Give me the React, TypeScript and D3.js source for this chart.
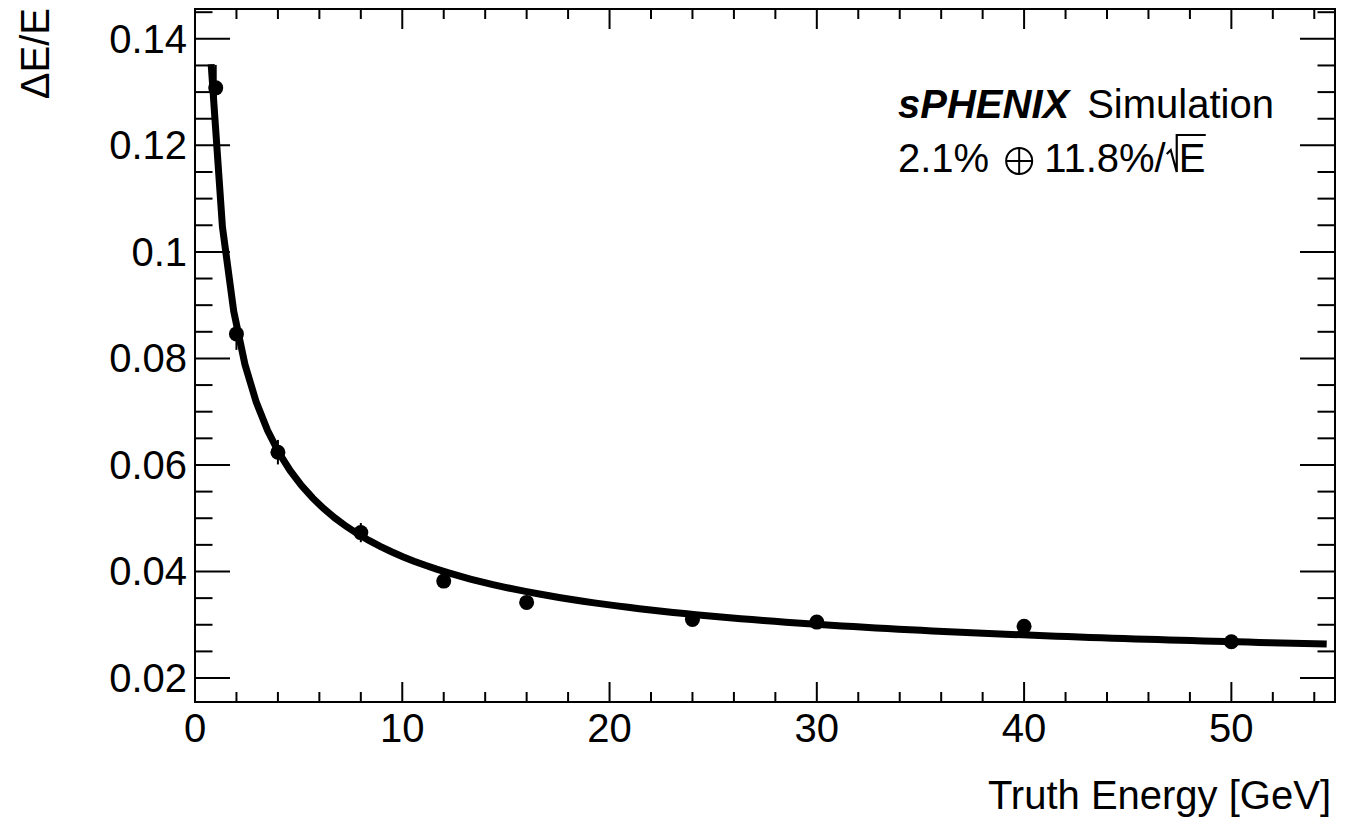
import React, { useEffect, useRef } from "react";
import * as d3 from "d3";

// Energy resolution points (truth energy in GeV, relative resolution, stat. error)
const energies = [1, 2, 4, 8, 12, 16, 24, 30, 40, 50];
const resolution = [0.1308, 0.0846, 0.0624, 0.0473, 0.0382, 0.0342, 0.031, 0.0305, 0.0297, 0.0268];
const resolutionErr = [0.0043, 0.003, 0.0023, 0.0018, 0.001, 0.0009, 0.0008, 0.0007, 0.0006, 0.0005];

// Fit: constant term (+) stochastic term / sqrt(E)
const fitConstant = 0.021;
const fitStochastic = 0.118;
const fitRange = [0.78, 54.6];
const fitSamples = 100;

const xMajorTicks = [0, 10, 20, 30, 40, 50];
const xTickLabels = ["0", "10", "20", "30", "40", "50"];
const yMajorTicks = [0.02, 0.04, 0.06, 0.08, 0.1, 0.12, 0.14];
const yTickLabels = ["0.02", "0.04", "0.06", "0.08", "0.1", "0.12", "0.14"];

const W = 1363;
const H = 821;
const FONT = "'Liberation Sans', Arial, Helvetica, sans-serif";
const FS = 40;

export default function App() {
  const ref = useRef<SVGSVGElement | null>(null);

  useEffect(() => {
    const svg = d3.select(ref.current);
    svg.selectAll("*").remove();

    const left = 195, right = 1335, top = 9, bottom = 702;
    const x = d3.scaleLinear().domain([0, 55]).range([left, right]);
    const y = d3.scaleLinear().domain([0.0155, 0.1456]).range([bottom, top]);

    const g = svg.append("g");

    // clip region for the data area
    svg.append("defs").append("clipPath").attr("id", "frame-clip")
      .append("rect").attr("x", left).attr("y", top).attr("width", right - left).attr("height", bottom - top);

    // ticks on all four sides
    const ticks = g.append("g").attr("stroke", "#000").attr("stroke-width", 2);
    const xMinor = d3.range(0, 55, 2);
    xMinor.forEach((v) => {
      const major = v % 10 === 0;
      const len = major ? 20 : 10;
      ticks.append("line").attr("x1", x(v)).attr("x2", x(v)).attr("y1", bottom).attr("y2", bottom - len);
      ticks.append("line").attr("x1", x(v)).attr("x2", x(v)).attr("y1", top).attr("y2", top + len);
    });
    const yMinor = d3.range(0, 30).map((i) => +(0.02 + i * 0.005).toFixed(3)).filter((v) => v <= 0.1456);
    yMinor.forEach((v) => {
      const major = yMajorTicks.some((m) => Math.abs(m - v) < 1e-6);
      const len = major ? 35 : 17.5;
      ticks.append("line").attr("x1", left).attr("x2", left + len).attr("y1", y(v)).attr("y2", y(v));
      ticks.append("line").attr("x1", right).attr("x2", right - len).attr("y1", y(v)).attr("y2", y(v));
    });

    // frame
    g.append("rect").attr("x", left).attr("y", top).attr("width", right - left).attr("height", bottom - top)
      .attr("fill", "none").attr("stroke", "#000").attr("stroke-width", 2);

    // tick labels
    const txt = g.append("g").attr("font-family", FONT).attr("font-size", FS).attr("fill", "#000");
    xMajorTicks.forEach((v, i) => {
      txt.append("text").attr("x", x(v)).attr("y", 742).attr("text-anchor", "middle").text(xTickLabels[i]);
    });
    yMajorTicks.forEach((v, i) => {
      txt.append("text").attr("x", 187).attr("y", y(v) + 14).attr("text-anchor", "end").text(yTickLabels[i]);
    });

    // axis titles
    txt.append("text").attr("x", 1331).attr("y", 809).attr("text-anchor", "end").text("Truth Energy [GeV]");
    txt.append("text").attr("transform", "translate(49,8) rotate(-90)").attr("text-anchor", "end").text("ΔE/E");

    // fit curve
    const f = (e: number) => Math.sqrt(fitConstant ** 2 + (fitStochastic ** 2) / e);
    const pts = d3.range(fitSamples).map((i) => {
      const e = fitRange[0] + (i * (fitRange[1] - fitRange[0])) / (fitSamples - 1);
      return [e, f(e)] as [number, number];
    });
    g.append("path").attr("clip-path", "url(#frame-clip)")
      .attr("d", d3.line<[number, number]>().x((d) => x(d[0])).y((d) => y(d[1]))(pts) || "")
      .attr("fill", "none").attr("stroke", "#000").attr("stroke-width", 7);

    // data points with error bars
    const data = energies.map((e, i) => ({ e, r: resolution[i], s: resolutionErr[i] }));
    const pg = g.append("g").attr("clip-path", "url(#frame-clip)");
    pg.selectAll("line.err").data(data).enter().append("line")
      .attr("x1", (d) => x(d.e)).attr("x2", (d) => x(d.e))
      .attr("y1", (d) => y(d.r - d.s)).attr("y2", (d) => y(d.r + d.s))
      .attr("stroke", "#000").attr("stroke-width", 2);
    pg.selectAll("circle").data(data).enter().append("circle")
      .attr("cx", (d) => x(d.e)).attr("cy", (d) => y(d.r)).attr("r", 7.5).attr("fill", "#000");

    // labels
    const lab = g.append("g").attr("font-family", FONT).attr("font-size", FS).attr("fill", "#000");
    const l1 = lab.append("text").attr("x", 898).attr("y", 118);
    l1.append("tspan").attr("font-weight", "bold").attr("font-style", "italic").text("sPHENIX");
    l1.append("tspan").attr("dx", 18).text("Simulation");

    // "2.1% (+) 11.8%/sqrt(E)"
    const base = 172;
    const a = lab.append("text").attr("x", 898).attr("y", base).text("2.1%");
    const aw = (a.node() as SVGTextElement).getComputedTextLength();
    const ox = 898 + aw + 17 + 13;
    const oy = base - 11;
    const oplus = lab.append("g").attr("fill", "none").attr("stroke", "#000").attr("stroke-width", 2);
    oplus.append("circle").attr("cx", ox).attr("cy", oy).attr("r", 13);
    oplus.append("line").attr("x1", ox - 13).attr("x2", ox + 13).attr("y1", oy).attr("y2", oy);
    oplus.append("line").attr("x1", ox).attr("x2", ox).attr("y1", oy - 13).attr("y2", oy + 13);

    const bx = ox + 13 + 12;
    const b = lab.append("text").attr("x", bx).attr("y", base).text("11.8%/");
    const sx = bx + (b.node() as SVGTextElement).getComputedTextLength();
    // radical sign over E
    lab.append("path")
      .attr("d", `M${sx + 1},${154} L${sx + 5},${150} L${sx + 11},${172} L${sx + 11},${135} L${sx + 40},${135}`)
      .attr("fill", "none").attr("stroke", "#000").attr("stroke-width", 2.2);
    lab.append("text").attr("x", sx + 13).attr("y", base).text("E");
  }, []);

  return (
    <svg ref={ref} width={W} height={H} style={{ position: "absolute", left: 0, top: 0, background: "#fff" }} />
  );
}
